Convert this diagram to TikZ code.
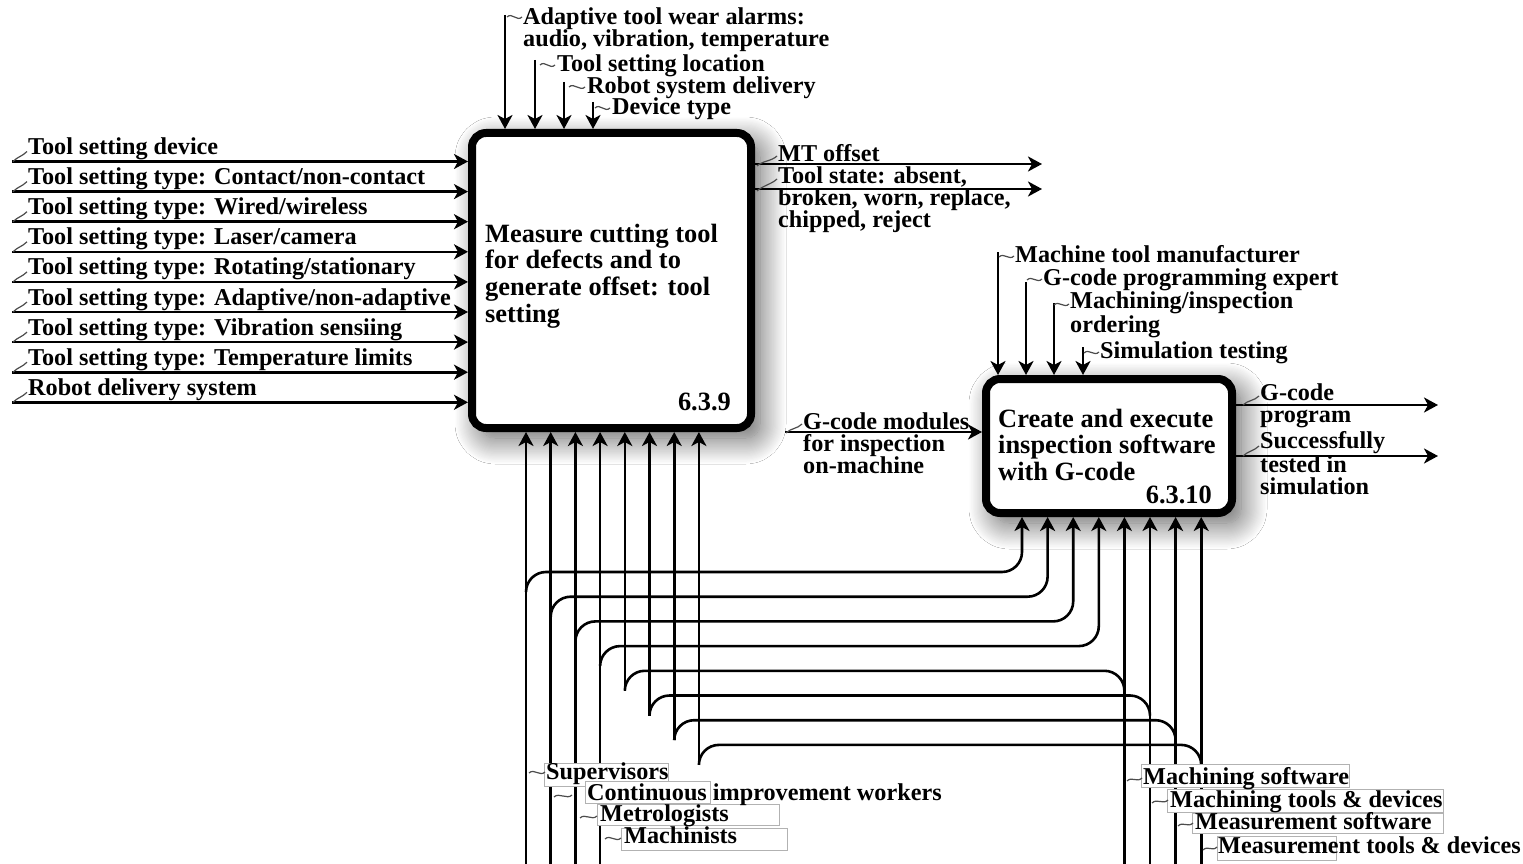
\documentclass[tikz,border=0pt]{standalone}
\usepackage{fontspec}
\newfontfamily\lbfamily{Liberation Serif}
\usetikzlibrary{arrows.meta,shadows.blur}
\newcommand\lblfont{\lbfamily\bfseries\fontsize{24.2}{22}\selectfont}
\newcommand\procfont{\lbfamily\bfseries\fontsize{26.4}{26.8}\selectfont}
\begin{document}
\begin{tikzpicture}[x=1pt,y=-1pt,
  conn/.style={line width=2.6pt, line join=round},
  arr/.style={conn, -{Stealth[length=14pt,width=15pt,inset=4pt]}},
  squig/.style={line width=1.2pt, black!70,
    to path={.. controls +(5,-5) and +(-5,5) .. (\tikztotarget)}},
  lbl/.style={font=\lblfont, anchor=base west, inner sep=0pt, align=left},
  ptext/.style={font=\procfont, inner sep=0pt, align=left},
  procbox/.style={draw, line width=8pt, rounded corners=14pt, fill=white,
    blur shadow={shadow xshift=9pt, shadow yshift=-10pt, shadow blur radius=26pt,
      shadow blur steps=24, shadow opacity=65}},
  tagbox/.style={draw=black!30, line width=0.8pt, fill=white},
]
\fill[white] (0,0) rectangle (1523,864);
\useasboundingbox (0,0) rectangle (1523,864);

% activity boxes (multi-line texts are placed by the baseline of their last line)
\node[procbox, minimum width=279pt, minimum height=295pt] (b1) at (611.5,280.5) {};
\node[procbox, minimum width=246pt, minimum height=134pt] (b2) at (1109,446) {};
\node[ptext, anchor=base west] (b1txt) at (485,322.4)
  {Measure cutting tool\\for defects and to\\generate offset: tool\\setting};
\node[ptext, anchor=base east] (b1num) at (731,410) {6.3.9};
\node[ptext, anchor=base west] (b2txt) at (998,480.6)
  {Create and execute\\inspection software\\with G-code};
\node[ptext, anchor=base east] (b2num) at (1212,503) {6.3.10};

% inputs of 6.3.9
\foreach \t [count=\i from 0] in {Tool setting device,
  Tool setting type: Contact/non-contact,
  Tool setting type: Wired/wireless,
  Tool setting type: Laser/camera,
  Tool setting type: Rotating/stationary,
  Tool setting type: Adaptive/non-adaptive,
  Tool setting type: Vibration sensiing,
  Tool setting type: Temperature limits,
  Robot delivery system}{
  \coordinate (li\i) at (12,{161.5+30.1*\i});
  \draw[arr] (li\i) -- (li\i -| b1.west);
  \node[lbl] (lt\i) at ([shift={(16,-7)}]li\i) {\t};
  \draw[squig] ([shift={(-15,7)}]lt\i.base west) to ([shift={(-1,-3)}]lt\i.base west);
}

% controls of 6.3.9
\coordinate (ca1) at (505,15);
\coordinate (ca2) at (535,60);
\coordinate (ca3) at (564,82);
\coordinate (ca4) at (593,102);
\foreach \c in {1,...,4} \draw[arr] (ca\c) -- (ca\c |- b1.north);
\node[lbl] (cl1) at (523,47) {Adaptive tool wear alarms:\\audio, vibration, temperature};
\node[lbl] (cl2) at (557,72) {Tool setting location};
\node[lbl] (cl3) at (587,94) {Robot system delivery};
\node[lbl] (cl4) at (612,115) {Device type};
\draw[squig] ([shift={(-16,-30)}]cl1.base west) to ([shift={(-1,-30)}]cl1.base west);
\draw[squig] ([shift={(-17,-7)}]cl2.base west) to ([shift={(-2,-7)}]cl2.base west);
\draw[squig] ([shift={(-18,-7)}]cl3.base west) to ([shift={(-2,-7)}]cl3.base west);
\draw[squig] ([shift={(-17,-7)}]cl4.base west) to ([shift={(-2,-7)}]cl4.base west);

% outputs of 6.3.9
\coordinate (oe1) at (1042,164);
\coordinate (oe2) at (1042,189);
\draw[arr] (oe1 -| b1.east) -- (oe1);
\draw[arr] (oe2 -| b1.east) -- (oe2);
\node[lbl] (ol1) at (778,161) {MT offset};
\node[lbl] (ol2) at (778,227) {Tool state: absent,\\broken, worn, replace,\\chipped, reject};
\draw[squig] ([shift={(-21,5)}]ol1.base west) to ([shift={(-1,-5)}]ol1.base west);
\draw[squig] ([shift={(-21,-36)}]ol2.base west) to ([shift={(-1,-48)}]ol2.base west);

% controls of 6.3.10
\coordinate (cb1) at (998,252);
\coordinate (cb2) at (1026,282);
\coordinate (cb3) at (1054,303);
\coordinate (cb4) at (1083,347);
\foreach \c in {1,...,4} \draw[arr] (cb\c) -- (cb\c |- b2.north);
\node[lbl] (dl1) at (1015,262) {Machine tool manufacturer};
\node[lbl] (dl2) at (1043,285) {G-code programming expert};
\node[lbl] (dl3) at (1070,332) {Machining/inspection\\ordering};
\node[lbl] (dl4) at (1100,358) {Simulation testing};
\draw[squig] ([shift={(-16,-5)}]dl1.base west) to ([shift={(-1,-6)}]dl1.base west);
\draw[squig] ([shift={(-16,-5)}]dl2.base west) to ([shift={(-1,-6)}]dl2.base west);
\draw[squig] ([shift={(-16,-27)}]dl3.base west) to ([shift={(-1,-28)}]dl3.base west);
\draw[squig] ([shift={(-16,-5)}]dl4.base west) to ([shift={(-1,-6)}]dl4.base west);

% input of 6.3.10
\coordinate (gi) at (785,432);
\draw[arr] (gi) -- (gi -| b2.west);
\node[lbl] (gl) at (803,473) {G-code modules\\for inspection\\on-machine};
\draw[squig] ([shift={(-17,-40)}]gl.base west) to ([shift={(-1,-49)}]gl.base west);

% outputs of 6.3.10
\coordinate (go1) at (1438,405);
\coordinate (go2) at (1438,456);
\draw[arr] (go1 -| b2.east) -- (go1);
\draw[arr] (go2 -| b2.east) -- (go2);
\node[lbl] (gol1) at (1260,422) {G-code\\program};
\node[lbl] (gol2) at (1260,494) {Successfully\\tested in\\simulation};
\draw[squig] ([shift={(-17,-17)}]gol1.base west) to ([shift={(-1,-26)}]gol1.base west);
\draw[squig] ([shift={(-17,-38)}]gol2.base west) to ([shift={(-1,-48)}]gol2.base west);

% mechanisms shared by both activities
\foreach \i in {0,...,3}{
  \pgfmathsetmacro\xa{526+24.7*\i}
  \pgfmathsetmacro\xb{1022+25.6*\i}
  \pgfmathsetmacro\hh{572+24.7*\i}
  \coordinate (ma\i) at (\xa,864);
  \coordinate (fk\i) at (\xa,\hh+20);
  \coordinate (tb\i) at (\xb,\hh);
  \draw[arr] (ma\i) -- (ma\i |- b1.south);
  \draw[arr, rounded corners=20pt] (fk\i) -- ++(0,-20) -| (tb\i |- b2.south);
}
\foreach \i in {4,...,7}{
  \pgfmathsetmacro\xa{526+24.7*\i}
  \pgfmathsetmacro\xb{1022+25.6*\i}
  \pgfmathsetmacro\hh{572+24.7*\i}
  \coordinate (mb\i) at (\xb,864);
  \coordinate (fk\i) at (\xb,\hh+20);
  \coordinate (cu\i) at (\xa,\hh+20);
  \draw[arr] (mb\i) -- (mb\i |- b2.south);
  \draw[conn, rounded corners=20pt] (fk\i) -- ++(0,-20) -| (cu\i);
  \draw[arr] (cu\i) -- (cu\i |- b1.south);
}

% mechanism labels
\draw[tagbox] (544,763) rectangle (668,786);
\draw[tagbox] (585,781) rectangle (710,803);
\draw[tagbox] (597,804) rectangle (779,825);
\draw[tagbox] (621,828) rectangle (787,850);
\draw[tagbox] (1141,764) rectangle (1349,787);
\draw[tagbox] (1167,789) rectangle (1443,812);
\draw[tagbox] (1192,813) rectangle (1443,833);
\draw[tagbox] (1217,836) rectangle (1336,860);

\node[lbl] (ml1) at (546,779) {Supervisors};
\node[lbl] (ml2) at (587,800) {Continuous improvement workers};
\node[lbl] (ml3) at (600,821) {Metrologists};
\node[lbl] (ml4) at (624,843) {Machinists};
\node[lbl] (ml5) at (1143,784) {Machining software};
\node[lbl] (ml6) at (1170,807) {Machining tools \& devices};
\node[lbl] (ml7) at (1195,829) {Measurement software};
\node[lbl] (ml8) at (1218,853) {Measurement tools \& devices};

\draw[squig] ([shift={(-17,-6)}]ml1.base west) to ([shift={(-1,-7)}]ml1.base west);
\draw[squig] ([shift={(-33,-3)}]ml2.base west) to ([shift={(-15,-5)}]ml2.base west);
\draw[squig] ([shift={(-20,-3)}]ml3.base west) to ([shift={(-3,-5)}]ml3.base west);
\draw[squig] ([shift={(-19,-4)}]ml4.base west) to ([shift={(-3,-5)}]ml4.base west);
\draw[squig] ([shift={(-16,-3)}]ml5.base west) to ([shift={(-1,-6)}]ml5.base west);
\draw[squig] ([shift={(-18,-4)}]ml6.base west) to ([shift={(-2,-7)}]ml6.base west);
\draw[squig] ([shift={(-17,-3)}]ml7.base west) to ([shift={(-2,-6)}]ml7.base west);
\draw[squig] ([shift={(-15,-3)}]ml8.base west) to ([shift={(-1,-6)}]ml8.base west);
\end{tikzpicture}
\end{document}
